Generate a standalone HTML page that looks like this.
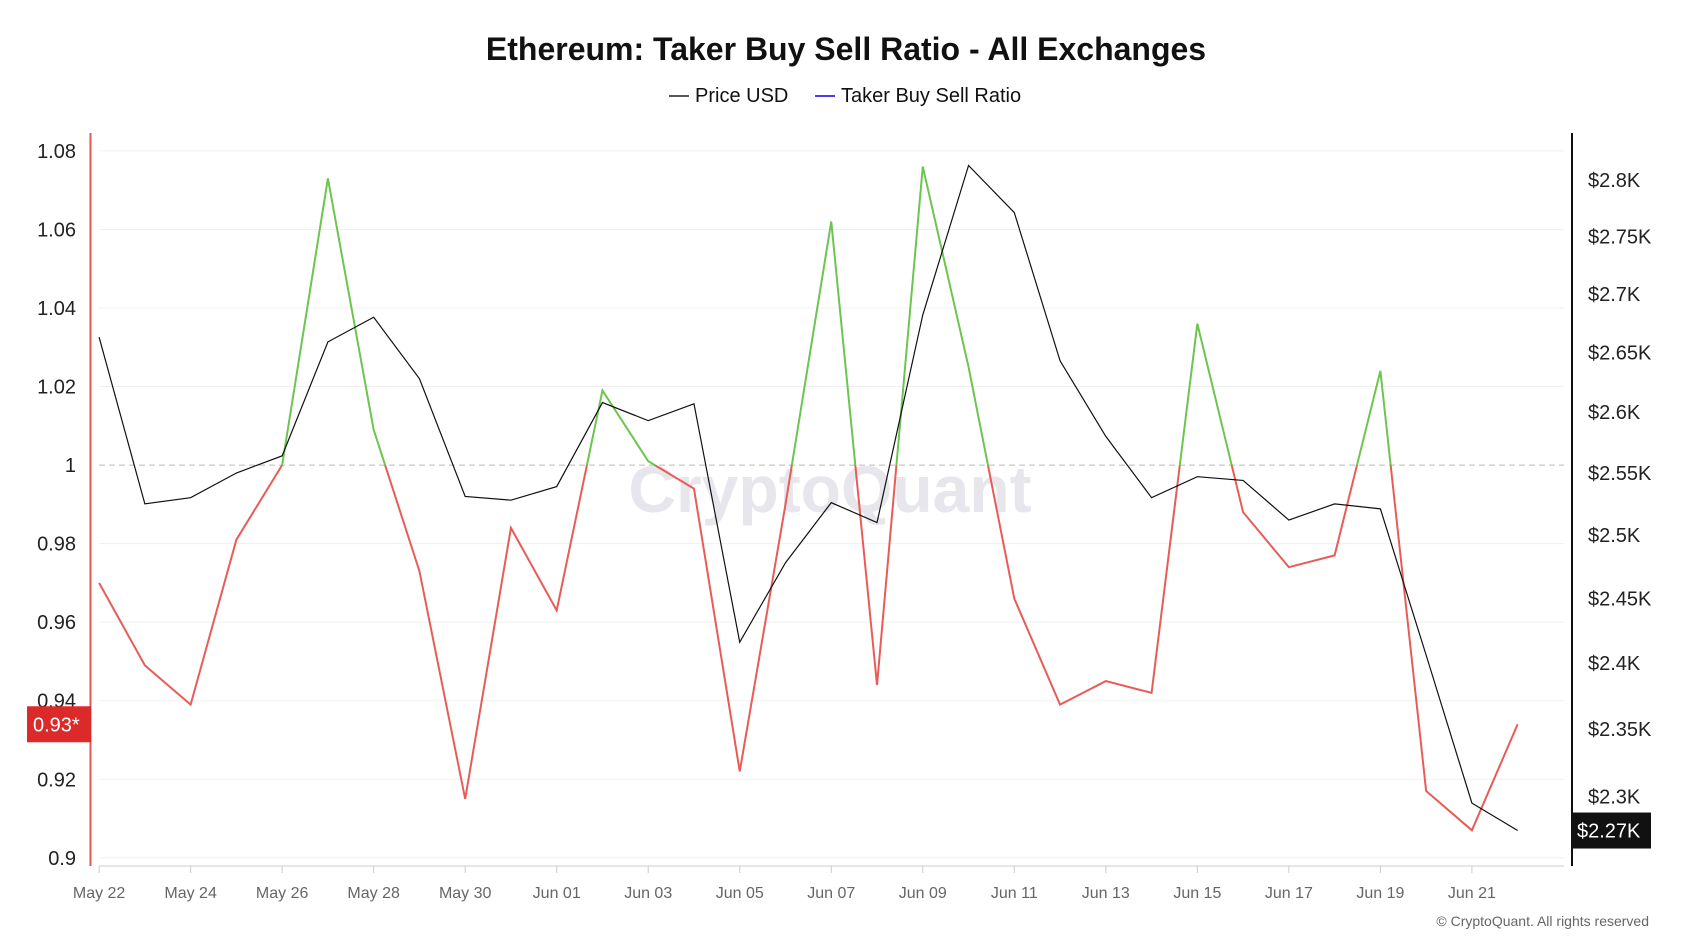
<!DOCTYPE html>
<html><head><meta charset="utf-8"><style>
body{margin:0;background:#fff;font-family:"Liberation Sans",sans-serif;}
svg{display:block}
</style></head><body>
<svg id="c" width="1689" height="950">
<text x="846" y="60" text-anchor="middle" font-size="32" font-weight="bold" fill="#111">Ethereum: Taker Buy Sell Ratio - All Exchanges</text>
<g>
<line x1="669" y1="96" x2="689" y2="96" stroke="#222" stroke-width="1.5"/>
<text x="695" y="102" font-size="20" fill="#111">Price USD</text>
<line x1="815" y1="96" x2="835" y2="96" stroke="#4b3cf0" stroke-width="2"/>
<text x="841" y="102" font-size="20" fill="#111">Taker Buy Sell Ratio</text>
</g>
<text x="830" y="512" text-anchor="middle" font-size="66" font-weight="bold" fill="#e6e6ec">CryptoQuant</text>
<g id="grid"></g><g id="axes"></g><g id="series"></g>
<text x="1649" y="926" text-anchor="end" font-size="14" fill="#666">© CryptoQuant. All rights reserved</text>
</svg>
<script>
const dates=["May 22","May 24","May 26","May 28","May 30","Jun 01","Jun 03","Jun 05","Jun 07","Jun 09","Jun 11","Jun 13","Jun 15","Jun 17","Jun 19","Jun 21"];
const ratio=[0.970,0.949,0.939,0.981,1.000,1.073,1.009,0.973,0.915,0.984,0.963,1.019,1.001,0.994,0.922,0.990,1.062,0.944,1.076,1.025,0.966,0.939,0.945,0.942,1.036,0.988,0.974,0.977,1.024,0.917,0.907,0.934];
const price=[2.663,2.525,2.530,2.550,2.564,2.659,2.680,2.628,2.531,2.528,2.539,2.608,2.593,2.607,2.416,2.478,2.526,2.510,2.682,2.813,2.771,2.643,2.580,2.530,2.547,2.544,2.512,2.525,2.521,2.406,2.295,2.275];
const leftTicks=[0.9,0.92,0.94,0.96,0.98,1,1.02,1.04,1.06,1.08];
const rightTicks=[2.3,2.35,2.4,2.45,2.5,2.55,2.6,2.65,2.7,2.75,2.8];
const NS="http://www.w3.org/2000/svg";
const x=i=>99.1+i*45.76;
const yL=v=>857.8-(v-0.9)/0.18*706.9;
const yR=p=>180-Math.log(p/2.8)*3133;
function mk(t,a,p){const e=document.createElementNS(NS,t);for(const k in a)e.setAttribute(k,a[k]);(p||document.getElementById('c')).appendChild(e);return e;}
const G=document.getElementById('grid'),A=document.getElementById('axes'),S=document.getElementById('series');
leftTicks.forEach(v=>{
 if(v!==1){const g=mk('line',{x1:99,x2:1564,y1:yL(v),y2:yL(v),stroke:'#f0f0f0'},G);
 
 }
 const t=mk('text',{x:76,y:yL(v)+7,'text-anchor':'end','font-size':20,fill:'#222'},A);t.textContent=String(v);
 
 
});
const d=mk('line',{x1:99,x2:1564,y1:yL(1),y2:yL(1),stroke:'#bbb','stroke-dasharray':'6,4'},G);


rightTicks.forEach(p=>{const t=mk('text',{x:1588,y:yR(p)+7,'font-size':20,fill:'#222'},A);t.textContent='$'+p+'K';
 
 });
const la=mk('line',{x1:90.5,x2:90.5,y1:133,y2:866,stroke:'#e05a55','stroke-width':2},A);


const ra=mk('line',{x1:1572,x2:1572,y1:133,y2:866,stroke:'#111','stroke-width':2},A);


const xa=mk('line',{x1:99,x2:1564,y1:866,y2:866,stroke:'#ddd','stroke-width':1.5},A);


dates.forEach((s,k)=>{const xx=x(k*2);mk('line',{x1:xx,x2:xx,y1:866,y2:873,stroke:'#ccc'},A);
 const t=mk('text',{x:xx,y:898,'text-anchor':'middle','font-size':16,fill:'#666'},A);t.textContent=s;
 
 });
const defs=mk('defs',{});
const c1=mk('clipPath',{id:'above'},defs);mk('rect',{x:0,y:0,width:1689,height:yL(1)},c1);
const c2=mk('clipPath',{id:'below'},defs);mk('rect',{x:0,y:yL(1),width:1689,height:950},c2);
const rp=ratio.map((v,i)=>x(i)+','+yL(v)).join(' ');
const g1=mk('polyline',{points:rp,fill:'none',stroke:'#6cc54e','stroke-width':2,'clip-path':'url(#above)'},S);


const r1=mk('polyline',{points:rp,fill:'none',stroke:'#e85c57','stroke-width':2,'clip-path':'url(#below)'},S);


const pl=mk('polyline',{points:price.map((p,i)=>x(i)+','+yR(p)).join(' '),fill:'none',stroke:'#111','stroke-width':1.2},S);


const lb=mk('g',{},S);


const ly=yL(ratio[ratio.length-1]);
mk('rect',{x:27,y:ly-18,width:64,height:36,fill:'#dc2a2a'},lb);
const lt=mk('text',{x:33,y:ly+7,'font-size':20,fill:'#fff'},lb);lt.textContent=ratio[ratio.length-1].toFixed(2).replace(/0$/,'')+'*';
const pb=mk('g',{},S);


const py=yR(price[price.length-1]);
mk('rect',{x:1573,y:py-18,width:78,height:36,fill:'#111'},pb);
const pt=mk('text',{x:1577,y:py+7,'font-size':20,fill:'#fff'},pb);pt.textContent='$'+price[price.length-1].toFixed(2)+'K';
</script>
</body></html>
